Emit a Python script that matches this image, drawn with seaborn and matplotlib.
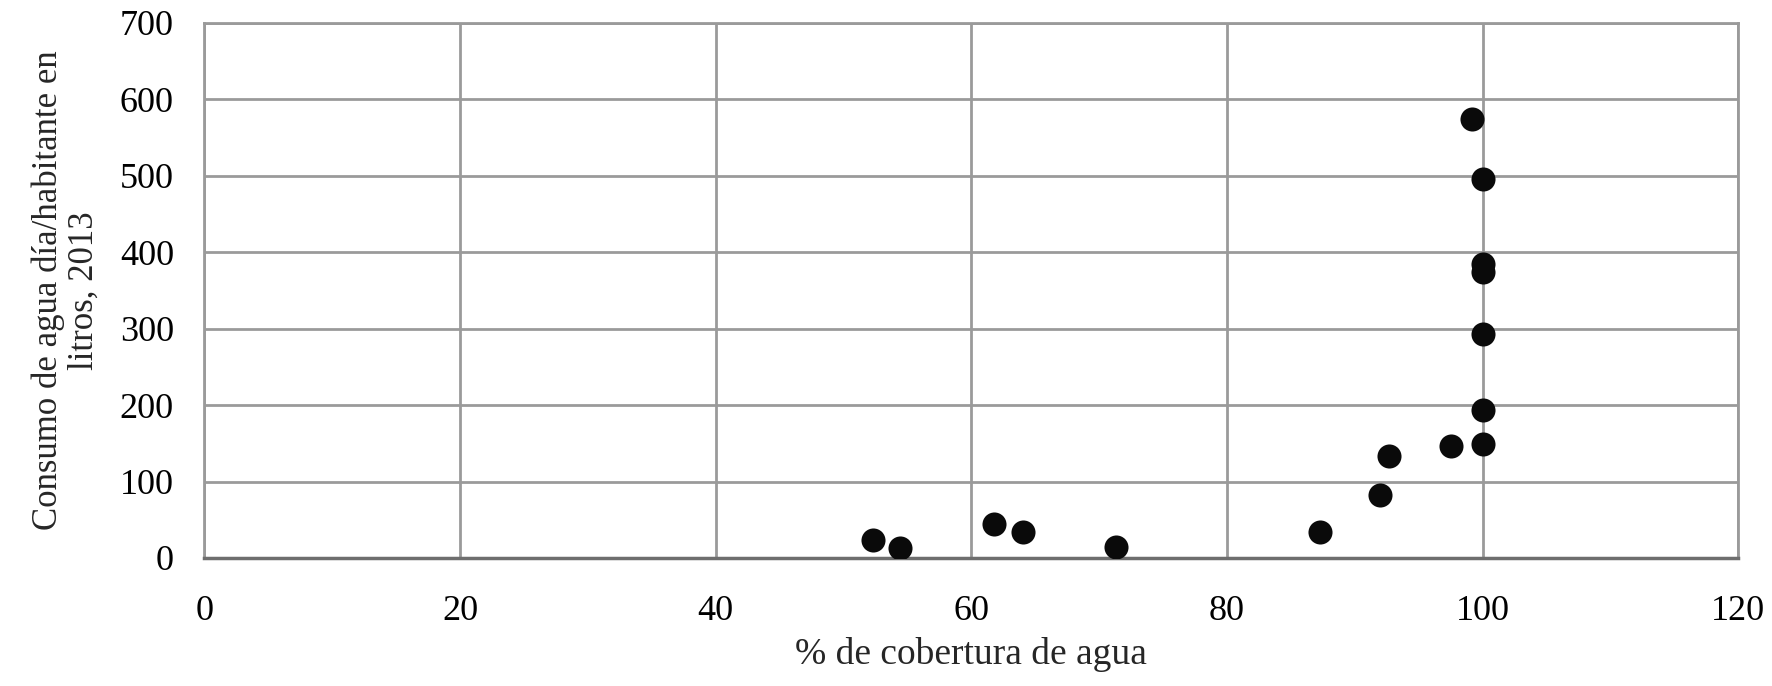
import matplotlib.pyplot as plt
import pandas as pd
import seaborn as sns

# Data
cobertura = [52.3, 54.4, 61.8, 64.0, 71.3, 87.3, 92.0, 92.7, 97.5, 100.0,
             100.0, 100.0, 100.0, 100.0, 100.0, 99.2]
consumo = [23, 13, 44, 34, 14, 34, 83, 134, 147, 149,
           194, 293, 374, 385, 495, 574]

x_ticks = [0, 20, 40, 60, 80, 100, 120]
y_ticks = [0, 100, 200, 300, 400, 500, 600, 700]

df = pd.DataFrame({"cobertura": cobertura, "consumo": consumo})

sns.set_style("white")
plt.rcParams["font.family"] = ["Liberation Serif", "DejaVu Serif"]

fig = plt.figure(figsize=(17.72, 6.86), dpi=100)
ax = fig.add_axes([0.1154, 0.1866, 0.8656, 0.7804])

sns.scatterplot(data=df, x="cobertura", y="consumo", ax=ax,
                color="#0a0a0a", s=300, linewidth=0, zorder=3)

ax.set_xlim(0, 120)
ax.set_ylim(0, 700)
ax.set_xticks(x_ticks)
ax.set_yticks(y_ticks)
ax.tick_params(axis="both", labelsize=26, length=0, colors="black")
ax.tick_params(axis="x", pad=27)
ax.tick_params(axis="y", pad=22)

ax.grid(True, color="#9a9a9a", linewidth=2, zorder=0)
for side in ["top", "right", "left"]:
    ax.spines[side].set_color("#9a9a9a")
    ax.spines[side].set_linewidth(2)
ax.spines["bottom"].set_color("#6e6e6e")
ax.spines["bottom"].set_linewidth(2.5)

ax.set_xlabel("% de cobertura de agua", fontsize=27, labelpad=6)
ax.set_ylabel("Consumo de agua día/habitante en\nlitros, 2013", fontsize=25,
              labelpad=14, linespacing=1.1)

fig.savefig("out.png", dpi=100)
